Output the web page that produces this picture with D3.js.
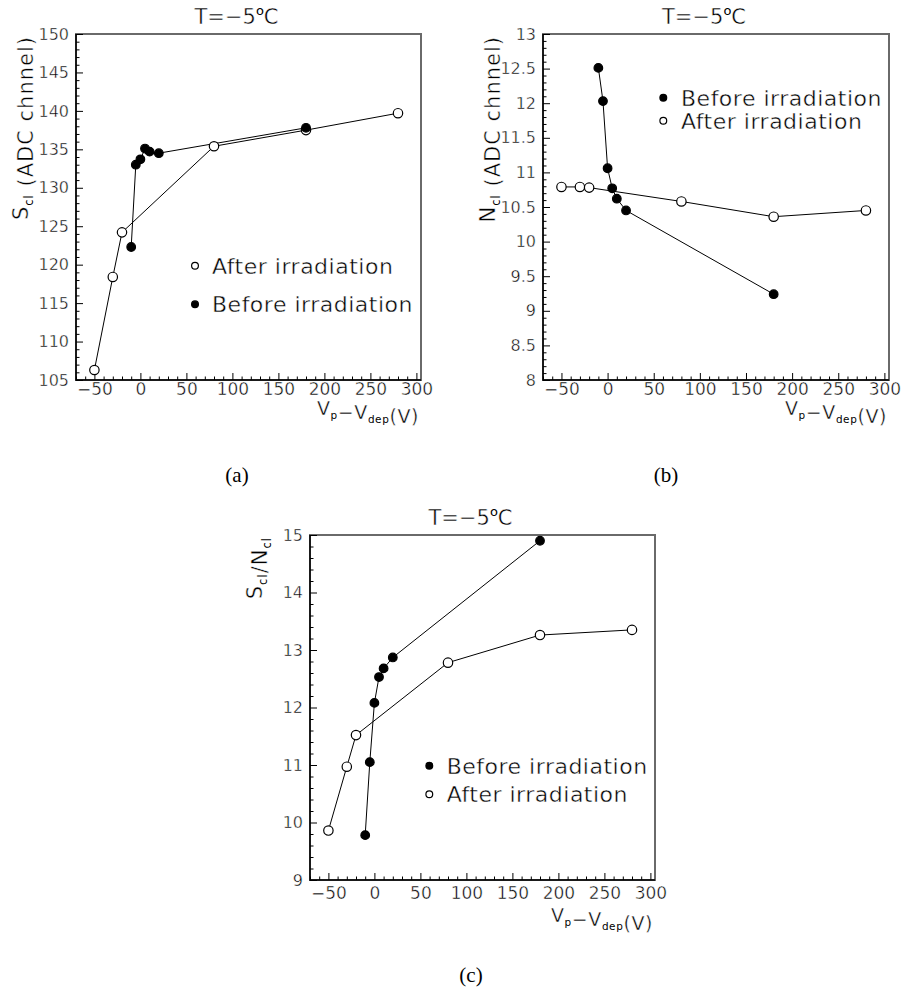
<!DOCTYPE html>
<html>
<head>
<meta charset="utf-8">
<script src="https://cdn.jsdelivr.net/npm/d3@7"></script>
<style>
  body { margin: 0; background: #fff; }
  svg { display: block; }
  /* amincit légèrement les glyphes pour imiter la police filaire d'origine */
  .thin { stroke: #fff; stroke-width: 0.45px; }
  .thin .small { stroke: none; }
</style>
</head>
<body>
<svg id="chart"></svg>
<script>
const width = 904;
const height = 992;

// Vp - Vdep (V) for the two samples
const vBefore = [-10, -5, 0, 5, 10, 20, 180];
const vAfter = [-50, -30, -20, 80, 180, 280];

// (a) cluster signal S_cl
const sclBefore = [122.3, 133.0, 133.7, 135.1, 134.7, 134.5, 137.8];
const sclAfter = [106.3, 118.4, 124.2, 135.4, 137.5, 139.7];

// (b) cluster noise N_cl
const nclBefore = [12.51, 12.03, 11.06, 10.77, 10.62, 10.45, 9.24];
const nclAfter = [10.79, 10.79, 10.78, 10.58, 10.36, 10.45];

// (c) S_cl / N_cl
const ratioBefore = [9.78, 11.05, 12.08, 12.53, 12.68, 12.87, 14.90];
const ratioAfter = [9.86, 10.97, 11.52, 12.78, 13.26, 13.35];

// tick labels
const xTicks = [-50, 0, 50, 100, 150, 200, 250, 300];
const aTicks = [105, 110, 115, 120, 125, 130, 135, 140, 145, 150];
const bTicks = [8, 8.5, 9, 9.5, 10, 10.5, 11, 11.5, 12, 12.5, 13];
const cTicks = [9, 10, 11, 12, 13, 14, 15];

const legendBefore = "Before irradiation";
const legendAfter = "After irradiation";

const FONT = "'DejaVu Sans', sans-serif";
const minus = s => String(s).replace("-", "\u2212");

const svg = d3.select("#chart")
    .attr("width", width)
    .attr("height", height)
    .attr("viewBox", [0, 0, width, height]);

const panels = [
  {
    frame: {l: 76, t: 34, r: 421, b: 380}, xPad: 3, xTitleDy: 35,
    yDomain: [105, 150], yTicks: aTicks, yMinor: 1,
    before: sclBefore, after: sclAfter,
    yName: "S", yRest: " (ADC chnnel)",
    legend: {x: 195, rows: [265.7, 304.3], tx: 212, order: ["after", "before"]},
    letter: {x: 237, y: 482, text: "(a)"}
  },
  {
    frame: {l: 543, t: 34, r: 889, b: 380}, xPad: 3, xTitleDy: 35,
    yDomain: [8, 13], yTicks: bTicks, yMinor: 0.1,
    before: nclBefore, after: nclAfter,
    yName: "N", yRest: " (ADC chnnel)",
    legend: {x: 663.3, rows: [97.7, 120.7], tx: 681, order: ["before", "after"]},
    letter: {x: 666, y: 482, text: "(b)"}
  },
  {
    frame: {l: 310, t: 535, r: 655, b: 880}, xPad: 7, xTitleDy: 42,
    yDomain: [9, 15], yTicks: cTicks, yMinor: 0.2,
    before: ratioBefore, after: ratioAfter,
    yName: "ratio",
    legend: {x: 429.3, rows: [765.7, 794.3], tx: 446.7, order: ["before", "after"]},
    letter: {x: 471, y: 982, text: "(c)"}
  }
];

function minorValues(domain, step, majors) {
  const n = Math.round((domain[1] - domain[0]) / step);
  return d3.range(n + 1)
    .map(i => +(domain[0] + i * step).toFixed(6))
    .filter(v => !majors.some(m => Math.abs(m - v) < 1e-6));
}

function subscripted(text, parts, size) {
  // parts: [[chaine, indice?], ...]
  parts.forEach(([s, sub]) => {
    text.append("tspan")
      .attr("class", sub ? "small" : null)
      .attr("font-size", sub ? size * 0.55 : size)
      .attr("dy", sub ? size * 0.22 : null)
      .text(s);
    if (sub) text.append("tspan").attr("dy", -size * 0.22).text("");
  });
}

function marker(g, cx, cy, filled, r) {
  g.append("circle")
    .attr("cx", cx).attr("cy", cy).attr("r", r)
    .attr("fill", filled ? "#000" : "#fff")
    .attr("stroke", "#000")
    .attr("stroke-width", 1.2);
}

panels.forEach(p => {
  const f = p.frame;
  const g = svg.append("g");

  const x = d3.scaleLinear().domain([-70, 305]).range([f.l, f.r]);
  const y = d3.scaleLinear().domain(p.yDomain).range([f.b, f.t]);

  // cadre
  g.append("rect")
    .attr("x", f.l).attr("y", f.t)
    .attr("width", f.r - f.l).attr("height", f.b - f.t)
    .attr("fill", "none").attr("stroke", "#6a6a6a").attr("stroke-width", 2);

  // axe x : graduations vers l'intérieur
  const xMinor = minorValues([-70, 300], 10, xTicks);
  g.append("g")
      .attr("transform", `translate(0,${f.b})`)
      .call(d3.axisBottom(x).tickValues(xMinor).tickSize(-3.5).tickFormat(""))
      .call(a => a.select(".domain").remove());
  g.append("g")
      .attr("transform", `translate(0,${f.b})`)
      .call(d3.axisBottom(x).tickValues(xTicks).tickSize(-7).tickPadding(p.xPad).tickFormat(minus))
      .call(a => a.select(".domain").remove())
      .call(a => a.selectAll("text").attr("class", "thin")
        .attr("font-family", FONT).attr("font-size", 17).attr("fill", "#000"));

  // axe y
  const yMinor = minorValues(p.yDomain, p.yMinor, p.yTicks);
  g.append("g")
      .attr("transform", `translate(${f.l},0)`)
      .call(d3.axisLeft(y).tickValues(yMinor).tickSize(-3.5).tickFormat(""))
      .call(a => a.select(".domain").remove());
  g.append("g")
      .attr("transform", `translate(${f.l},0)`)
      .call(d3.axisLeft(y).tickValues(p.yTicks).tickSize(-7).tickPadding(7).tickFormat(minus))
      .call(a => a.select(".domain").remove())
      .call(a => a.selectAll("text").attr("class", "thin")
        .attr("font-family", FONT).attr("font-size", 16).attr("fill", "#000"));

  g.selectAll(".tick line").attr("stroke", "#000").attr("stroke-width", 1);

  g.append("path")
    .attr("d", `M${f.l},${f.t}V${f.b}H${f.r}`)
    .attr("fill", "none").attr("stroke", "#000").attr("stroke-width", 1.5);

  // titre
  const cx = (f.l + f.r) / 2 - 12;
  const title = g.append("text")
    .attr("class", "thin")
    .attr("x", cx).attr("y", f.t - 10)
    .attr("text-anchor", "middle")
    .attr("font-family", FONT).attr("font-size", 21).attr("fill", "#000");
  title.append("tspan").text("T=\u22125");
  title.append("tspan").attr("class", "small").attr("font-size", 13).attr("dy", -9).text("o");
  title.append("tspan").attr("dy", 9).text("C");

  // titre axe x
  const xt = g.append("text")
    .attr("class", "thin")
    .attr("x", f.r - 2).attr("y", f.b + p.xTitleDy)
    .attr("text-anchor", "end")
    .attr("font-family", FONT).attr("font-size", 19).attr("fill", "#000")
    .attr("letter-spacing", 0.6);
  subscripted(xt, [["V", false], ["p", true], ["\u2212V", false], ["dep", true], ["(V)", false]], 19);

  // titre axe y
  const yt = g.append("text")
    .attr("class", "thin")
    .attr("transform", `translate(${f.l - 48},${f.t + 2}) rotate(-90)`)
    .attr("text-anchor", "end")
    .attr("font-family", FONT).attr("font-size", 21).attr("fill", "#000")
    .attr("letter-spacing", 1);
  if (p.yName === "ratio") {
    subscripted(yt, [["S", false], ["cl", true], ["/N", false], ["cl", true]], 21);
  } else {
    subscripted(yt, [[p.yName, false], ["cl", true], [p.yRest, false]], 21);
  }

  // courbes
  const line = d3.line().x(d => x(d[0])).y(d => y(d[1]));
  const series = {
    before: d3.zip(vBefore, p.before),
    after: d3.zip(vAfter, p.after)
  };
  ["after", "before"].forEach(k => {
    g.append("path")
      .datum(series[k])
      .attr("d", line)
      .attr("fill", "none").attr("stroke", "#000").attr("stroke-width", 1);
  });
  series.after.forEach(d => marker(g, x(d[0]), y(d[1]), false, 4.7));
  series.before.forEach(d => marker(g, x(d[0]), y(d[1]), true, 4.3));

  // légende
  p.legend.order.forEach((k, i) => {
    const ry = p.legend.rows[i];
    marker(g, p.legend.x, ry, k === "before", 3.4);
    g.append("text")
      .attr("class", "thin")
      .attr("x", p.legend.tx).attr("y", ry + 8)
      .attr("font-family", FONT).attr("font-size", 22).attr("fill", "#000")
      .attr("letter-spacing", 0.5)
      .text(k === "before" ? legendBefore : legendAfter);
  });

  // lettre du panneau
  svg.append("text")
    .attr("x", p.letter.x).attr("y", p.letter.y)
    .attr("text-anchor", "middle")
    .attr("font-family", "'Liberation Serif', 'Times New Roman', serif")
    .attr("font-size", 21).attr("fill", "#000")
    .text(p.letter.text);
});
</script>
</body>
</html>
